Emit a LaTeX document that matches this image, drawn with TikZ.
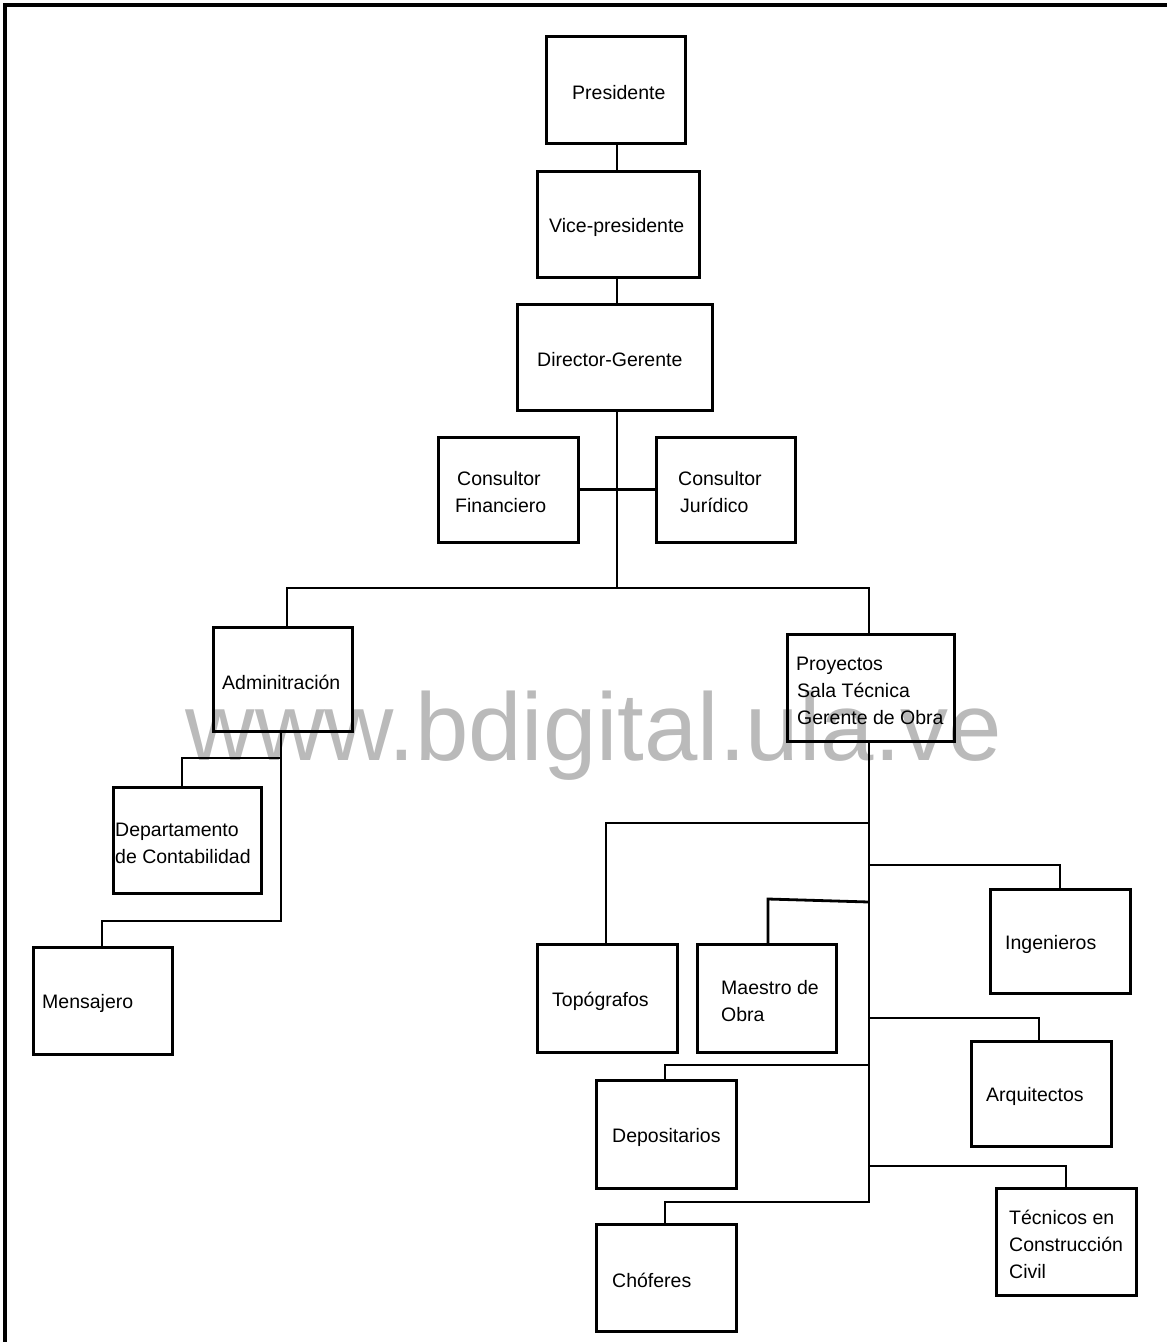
\documentclass[tikz,border=0pt]{standalone}
\usepackage{fontspec}
\setmainfont{Liberation Sans}

% \orgbox{name}{x1}{y1}{x2}{y2}{text inset}{text}
\newcommand{\orgbox}[7]{%
  \node[box, minimum width={#4-#2}, minimum height={#5-#3},
        label={[lbl, xshift=#6]west:#7}] (#1) at ({(#2+#4)/2},{(#3+#5)/2}) {};}

\begin{document}
\begin{tikzpicture}[x=1pt, y=-1pt,
  box/.style={draw, rectangle, line width=3pt, inner sep=0pt, outer sep=0pt},
  lbl/.style={anchor=west, inner sep=0pt, align=left, yshift=-3pt,
              font=\fontsize{19.5}{27}\selectfont},
  wire/.style={line width=2.8pt},
  framing/.style={line width=4.5pt},
  stamp/.style={text=black!27, inner sep=0pt, anchor=base,
                font=\fontsize{96}{96}\selectfont}]

\useasboundingbox (0,0) rectangle (1167,1342);

% repository stamp behind the chart
\node[stamp] (wm) at (594,760) {www.bdigital.ula.ve};

% page frame
\draw[framing] (5,1342) -- (5,5) -- (1167,5);

% boxes
\orgbox{pres}{546}{36}{685}{143}{26}{Presidente}
\orgbox{vice}{537}{171}{699}{277}{12}{Vice-presidente}
\orgbox{dir}{517}{304}{712}{410}{20}{Director-Gerente}
\orgbox{finan}{438}{437}{578}{542}{17}{\hspace{2pt}Consultor\\Financiero}
\orgbox{jur}{656}{437}{795}{542}{22}{Consultor\\\hspace{2pt}Jurídico}
\orgbox{adm}{213}{627}{352}{731}{9}{Adminitración}
\orgbox{proy}{787}{634}{954}{741}{9}{Proyectos\\\hspace{1pt}Sala Técnica\\\hspace{1pt}Gerente de Obra}
\orgbox{dept}{113}{787}{261}{893}{2}{Departamento\\de Contabilidad}
\orgbox{mens}{33}{947}{172}{1054}{9}{Mensajero}
\orgbox{topo}{537}{944}{677}{1052}{15}{Topógrafos}
\orgbox{maes}{697}{944}{836}{1052}{24}{Maestro de\\Obra}
\orgbox{ing}{990}{889}{1130}{993}{15}{Ingenieros}
\orgbox{arq}{971}{1041}{1111}{1146}{15}{Arquitectos}
\orgbox{depos}{596}{1080}{736}{1188}{16}{Depositarios}
\orgbox{chof}{596}{1224}{736}{1331}{16}{Chóferes}
\orgbox{tec}{996}{1188}{1136}{1295}{13}{Técnicos en\\Construcción\\Civil}

% junction points
\coordinate (sp) at (617,588);
\coordinate (la) at (287,588);
\coordinate (ra) at (869,588);
\coordinate (av) at (281,921);
\coordinate (dv) at (182,758);
\coordinate (mv) at (102,921);
\coordinate (pv) at (869,1202);
\coordinate (cv) at (665,1202);
\coordinate (tv) at (606,823);
\coordinate (iv) at (1060,865);
\coordinate (mo1) at (869,902);
\coordinate (mo2) at (768,899);
\coordinate (aq) at (1039,1018);
\coordinate (dp) at (665,1065);
\coordinate (tc) at (1066,1166);

% top chain
\draw[wire] (sp |- pres.south) -- (sp |- vice.north);
\draw[wire] (sp |- vice.south) -- (sp |- dir.north);
\draw[wire] (sp |- dir.south) -- (sp);
\draw[wire] (finan.east) -- (jur.west);
\draw[wire] (la |- adm.north) -- (la) -- (ra) -- (ra |- proy.north);

% administration branch
\draw[wire] (av |- adm.south) -- (av) -- (mv) -- (mv |- mens.north);
\draw[wire] (av |- dv) -- (dv) -- (dv |- dept.north);

% projects branch
\draw[wire] (pv |- proy.south) -- (pv) -- (cv) -- (cv |- chof.north);
\draw[wire] (pv |- tv) -- (tv) -- (tv |- topo.north);
\draw[wire] (pv |- iv) -- (iv) -- (iv |- ing.north);
\draw[wire] (mo1) -- (mo2) -- (mo2 |- maes.north);
\draw[wire] (pv |- aq) -- (aq) -- (aq |- arq.north);
\draw[wire] (pv |- dp) -- (dp) -- (dp |- depos.north);
\draw[wire] (pv |- tc) -- (tc) -- (tc |- tec.north);

\end{tikzpicture}
\end{document}
